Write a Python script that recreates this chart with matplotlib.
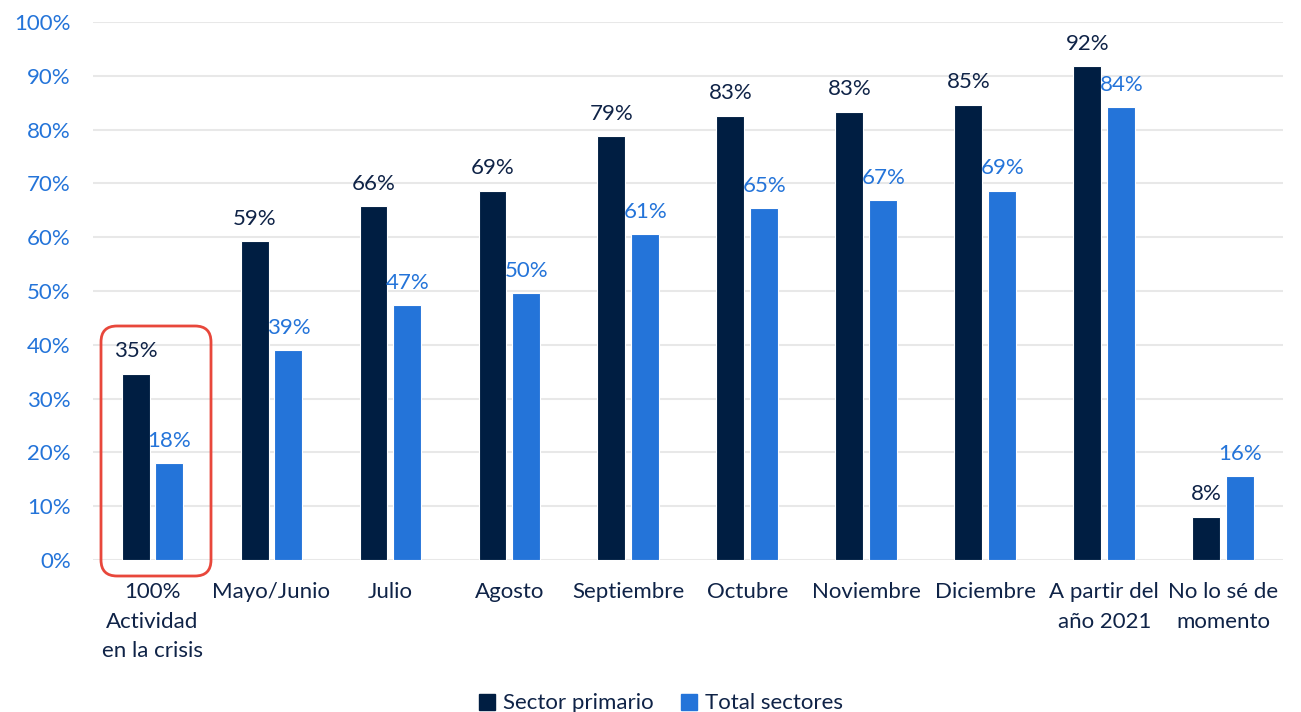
"""Sector primario vs total sectores: expected month of returning to full activity."""

import matplotlib

matplotlib.use("Agg")
import matplotlib.pyplot as plt
import numpy as np
from matplotlib.patches import FancyBboxPatch

categories = [
    "100%\nActividad\nen la crisis",
    "Mayo/Junio",
    "Julio",
    "Agosto",
    "Septiembre",
    "Octubre",
    "Noviembre",
    "Diciembre",
    "A partir del\naño 2021",
    "No lo sé de\nmomento",
]
sector_primario = [34.6, 59.3, 65.8, 68.6, 78.8, 82.6, 83.3, 84.6, 91.8, 8.0]
total_sectores = [18.0, 39.0, 47.4, 49.6, 60.6, 65.4, 66.9, 68.6, 84.2, 15.6]
yticks = list(range(0, 101, 10))

DARK = "#001E42"
BLUE = "#2474D9"
TEXT = "#0F2347"

plt.rcParams["font.family"] = ["Lato", "DejaVu Sans"]

fig = plt.figure(figsize=(13.01, 7.12), dpi=100)
ax = fig.add_axes([0.0715, 0.2135, 0.9145, 0.7555])

x = np.arange(len(categories))
w = 0.235
gap = 0.025
b1 = ax.bar(x - w / 2 - gap, sector_primario, w, color=DARK, edgecolor="white", linewidth=0.8, zorder=3)
b2 = ax.bar(x + w / 2 + gap, total_sectores, w, color=BLUE, edgecolor="white", linewidth=0.8, zorder=3)

for rect, v in zip(b1, sector_primario):
    ax.annotate(f"{v:.0f}%", (rect.get_x() + rect.get_width() / 2, v), xytext=(0, 9),
                textcoords="offset points", ha="center", va="bottom", fontsize=16, color=TEXT)
for rect, v in zip(b2, total_sectores):
    ax.annotate(f"{v:.0f}%", (rect.get_x() + rect.get_width() / 2, v), xytext=(0, 9),
                textcoords="offset points", ha="center", va="bottom", fontsize=16, color=BLUE)

ax.set_ylim(0, 100)
ax.set_xlim(-0.5, len(categories) - 0.5)
ax.set_yticks(yticks)
ax.set_yticklabels([f"{t}%" for t in yticks])
ax.set_xticks(x)
ax.set_xticklabels(categories, fontsize=16, color=TEXT, linespacing=1.6)
ax.tick_params(axis="y", length=0, pad=16, labelsize=16, labelcolor=BLUE)
ax.tick_params(axis="x", length=0, pad=16)
ax.grid(axis="y", color="#E8E8E8", linewidth=1.5, zorder=0)
for s in ax.spines.values():
    s.set_visible(False)

# red highlight round the first category
W, H = fig.get_size_inches() * fig.dpi
box = FancyBboxPatch((101 / W, 1 - 576 / H), 110 / W, 250 / H,
                     boxstyle=f"round,pad=0,rounding_size={16 / W}", mutation_aspect=W / H,
                     transform=fig.transFigure, fill=False, edgecolor="#E8473B", linewidth=2)
fig.patches.append(box)

handles = [plt.Rectangle((0, 0), 1, 1, color=DARK), plt.Rectangle((0, 0), 1, 1, color=BLUE)]
fig.legend(handles, ["Sector primario", "Total sectores"], loc="center", bbox_to_anchor=(0.508, 0.012),
           ncol=2, frameon=False, fontsize=16, handlelength=0.75, handleheight=0.75,
           handletextpad=0.35, columnspacing=1.2, labelcolor=TEXT)

fig.savefig("out.png", dpi=100)
